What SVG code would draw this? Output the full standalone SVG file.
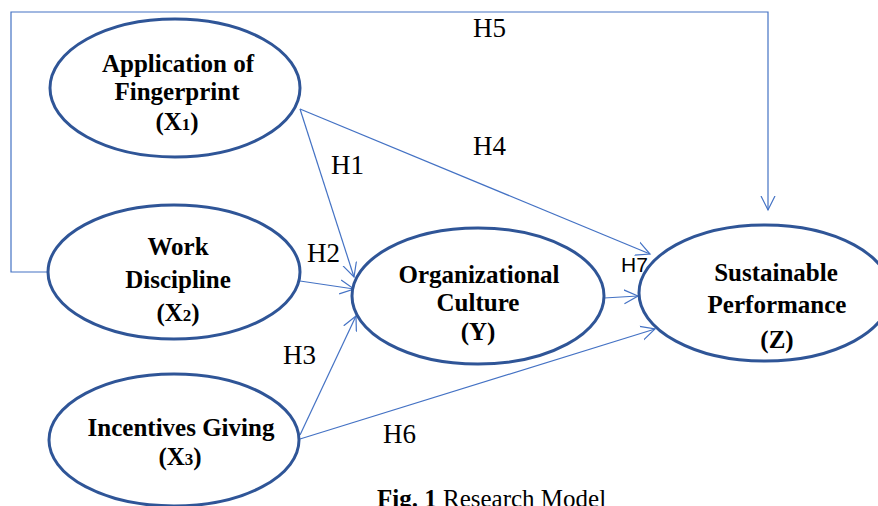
<svg xmlns="http://www.w3.org/2000/svg" width="878" height="506" viewBox="0 0 878 506">
<style>
.node{fill:#fff;stroke:#2f5597;stroke-width:3}
.t{font-family:'Liberation Serif',serif;font-weight:bold;font-size:25px;fill:#000;text-anchor:middle}
.sub{font-size:17px}
.c{fill:none;stroke:#4472c4;stroke-width:1.2}
.h{font-family:'Liberation Serif',serif;font-size:27px;fill:#000}
.hs{font-family:'Liberation Sans',sans-serif;font-size:21px;fill:#000}
.cap{font-family:'Liberation Serif',serif;font-size:25px;fill:#000}
</style>
<defs>
<marker id="arr" markerUnits="userSpaceOnUse" markerWidth="16" markerHeight="16" viewBox="0 0 16 16" refX="14" refY="8" orient="auto">
<path d="M0,1 L14,8 L0,15" fill="none" stroke="#4472c4" stroke-width="1.2"/>
</marker>
</defs>
<rect width="878" height="506" fill="#fff"/>
<g id="connectors">
<polyline class="c" points="48,272 11,272 11,12 768,12 768,210" marker-end="url(#arr)"/>
<line class="c" x1="300" y1="109" x2="354" y2="277" marker-end="url(#arr)"/>
<line class="c" x1="300" y1="109" x2="650" y2="254" marker-end="url(#arr)"/>
<line class="c" x1="300" y1="281" x2="354" y2="289" marker-end="url(#arr)"/>
<line class="c" x1="300" y1="435" x2="356" y2="316" marker-end="url(#arr)"/>
<line class="c" x1="300" y1="439" x2="655" y2="329" marker-end="url(#arr)"/>
<line class="c" x1="604" y1="298" x2="638" y2="296" marker-end="url(#arr)"/>
<text class="h" x="473" y="37">H5</text>
<text class="h" x="473" y="155">H4</text>
<text class="h" x="331" y="174">H1</text>
<text class="h" x="307" y="262">H2</text>
<text class="h" x="283" y="364">H3</text>
<text class="h" x="383" y="443">H6</text>
<text class="hs" x="621" y="272">H7</text>
</g>
<g id="x1">
<ellipse class="node" cx="175" cy="88" rx="125" ry="69"/>
<text class="t" x="178" y="72">Application of</text>
<text class="t" x="177" y="100">Fingerprint</text>
<text class="t" x="177" y="130">(X<tspan class="sub">1</tspan>)</text>
</g>
<g id="x2">
<ellipse class="node" cx="174" cy="272" rx="126" ry="67"/>
<text class="t" x="178" y="255">Work</text>
<text class="t" x="178" y="288">Discipline</text>
<text class="t" x="178" y="321">(X<tspan class="sub">2</tspan>)</text>
</g>
<g id="x3">
<ellipse class="node" cx="174" cy="440" rx="125" ry="66"/>
<text class="t" x="181" y="436">Incentives Giving</text>
<text class="t" x="180" y="465">(X<tspan class="sub">3</tspan>)</text>
</g>
<g id="y">
<ellipse class="node" cx="478" cy="296" rx="126" ry="68"/>
<text class="t" x="479" y="283">Organizational</text>
<text class="t" x="478" y="311">Culture</text>
<text class="t" x="478" y="340">(Y)</text>
</g>
<g id="z">
<ellipse class="node" cx="765" cy="293" rx="126" ry="68"/>
<text class="t" x="776" y="281">Sustainable</text>
<text class="t" x="777" y="313">Performance</text>
<text class="t" x="777" y="348">(Z)</text>
</g>
<text class="cap" x="377" y="507"><tspan font-weight="bold">Fig. 1</tspan> Research Model</text>
</svg>
